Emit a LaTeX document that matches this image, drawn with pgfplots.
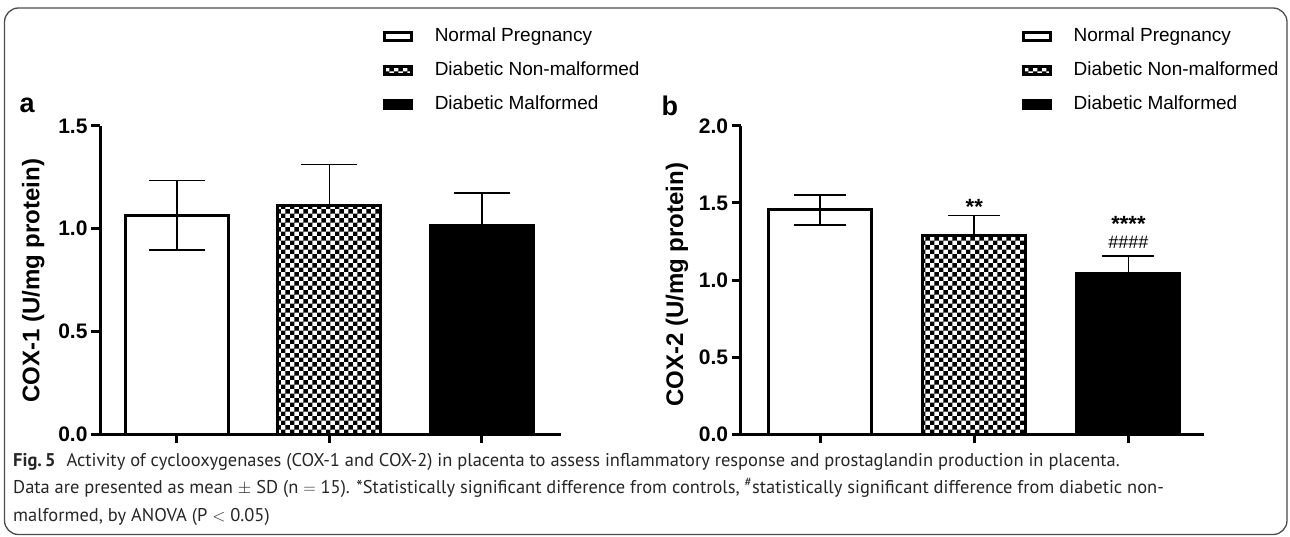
\documentclass[border=0pt]{standalone}
\usepackage{pgfplots}
\pgfplotsset{compat=1.18}
\usepackage{fontspec}
\setmainfont{Liberation Sans}
\newfontfamily\capfont{PT Sans}
\usetikzlibrary{patterns}

\pgfdeclarepatternformonly{checkbig}{\pgfpointorigin}{\pgfqpoint{9.4pt}{9.4pt}}{\pgfqpoint{9.4pt}{9.4pt}}{%
  \pgfpathrectangle{\pgfpointorigin}{\pgfqpoint{4.7pt}{4.7pt}}%
  \pgfpathrectangle{\pgfqpoint{4.7pt}{4.7pt}}{\pgfqpoint{4.7pt}{4.7pt}}%
  \pgfusepath{fill}}

\pgfplotsset{
  mybar/.style={ybar, bar shift=0pt, bar width=103pt, draw=black, line width=3pt, mark=none,
    legend image code/.code={\draw[##1, line width=2.5pt] (0pt,-4pt) rectangle (27pt,4pt);}},
  panel/.style={
    scale only axis, height=308pt, ymin=0, clip=false,
    axis lines*=left, axis line style={line width=3pt, black},
    xtick={0,1,2}, xticklabels={},
    tick align=outside, major tick length=9pt,
    tick style={line width=3pt, black},
    /pgf/number format/assume math mode=true,
    yticklabel style={font=\fontsize{21}{21}\selectfont\bfseries, /pgf/number format/.cd, fixed, fixed zerofill, precision=1},
    ylabel style={font=\fontsize{24}{24}\selectfont\bfseries},
    legend style={anchor=north west, draw=none, fill=none, inner sep=0pt,
      font=\fontsize{19}{19}\selectfont, row sep=16pt,
      nodes={inner sep=0pt, text height=14pt, text depth=4pt},
      /tikz/every odd column/.style={column sep=22pt}},
    legend cell align=left,
    error bars/error bar style={line width=1.6pt, black},
  },
}

\begin{document}
\begin{tikzpicture}[x=1pt,y=1pt]
\path[use as bounding box] (0,0) rectangle (1290,536);
\draw[line width=1.3pt, black!70, rounded corners=14pt] (4.5,1.5) rectangle (1287,528);

% Panel a
\begin{axis}[panel, at={(100pt,102pt)}, anchor=south west, width=461pt,
  xmin=-0.505, xmax=2.52, ymax=1.5, ytick={0,0.5,1,1.5},
  ylabel={COX-1 (U/mg protein)},
  ylabel style={at={(axis description cs:-0.145,0.497)}, anchor=center},
  legend style={at={(axis description cs:0.614,1.320)}},
  error bars/error mark options={rotate=90, mark size=28pt, line width=1.6pt, black}]
\addplot[mybar, fill=white, error bars/.cd, y dir=both, y explicit]
  coordinates {(0,1.065) +- (0,0.17)};
\addlegendentry{Normal Pregnancy}
\addplot[mybar, pattern=checkbig, error bars/.cd, y dir=plus, y explicit]
  coordinates {(1,1.115) +- (0,0.197)};
\addlegendentry{Diabetic Non-malformed}
\addplot[mybar, fill=black, error bars/.cd, y dir=plus, y explicit]
  coordinates {(2,1.015) +- (0,0.16)};
\addlegendentry{Diabetic Malformed}
\node[font=\fontsize{27}{27}\selectfont\bfseries] at (axis description cs:-0.158,1.066) {a};
\end{axis}

% Panel b
\begin{axis}[panel, at={(740.7pt,102pt)}, anchor=south west, width=463.3pt,
  xmin=-0.515, xmax=2.49, ymax=2.0, ytick={0,0.5,1,1.5,2},
  ylabel={COX-2 (U/mg protein)},
  ylabel style={at={(axis description cs:-0.1375,0.484)}, anchor=center},
  legend style={at={(axis description cs:0.607,1.320)}},
  error bars/error mark options={rotate=90, mark size=26pt, line width=1.6pt, black}]
\addplot[mybar, fill=white, error bars/.cd, y dir=both, y explicit]
  coordinates {(0,1.455) +- (0,0.098)};
\addlegendentry{Normal Pregnancy}
\addplot[mybar, pattern=checkbig, error bars/.cd, y dir=plus, y explicit]
  coordinates {(1,1.292) +- (0,0.126)};
\addlegendentry{Diabetic Non-malformed}
\addplot[mybar, fill=black, error bars/.cd, y dir=plus, y explicit]
  coordinates {(2,1.039) +- (0,0.117)};
\addlegendentry{Diabetic Malformed}
\node[font=\fontsize{27}{27}\selectfont\bfseries] at (axis description cs:-0.153,1.066) {b};
\node[anchor=base, font=\fontsize{22}{22}\selectfont\bfseries, inner sep=0pt] at (axis cs:1,1.425) {**};
\node[anchor=base, font=\fontsize{22}{22}\selectfont\bfseries, inner sep=0pt] at (axis cs:2,1.315) {****};
\node[anchor=base, font=\fontsize{18}{18}\selectfont, inner sep=0pt] at (axis cs:2,1.203) {\#\#\#\#};
\end{axis}

% Caption
\begin{scope}[every node/.style={anchor=base west, inner sep=0pt, font=\capfont\fontsize{18.45}{18.45}\selectfont, text=black!85}]
\node at (13,70) {\textbf{Fig.\,5}\hspace{0.6em}Activity of cyclooxygenases (COX-1 and COX-2) in placenta to assess inflammatory response and prostaglandin production in placenta.};
\node at (13,43) {Data are presented as mean $\pm$ SD (n $=$ 15). *Statistically significant difference from controls, \textsuperscript{\#}statistically significant difference from diabetic non-};
\node at (13,15) {malformed, by ANOVA (P $<$ 0.05)};
\end{scope}
\end{tikzpicture}
\end{document}
